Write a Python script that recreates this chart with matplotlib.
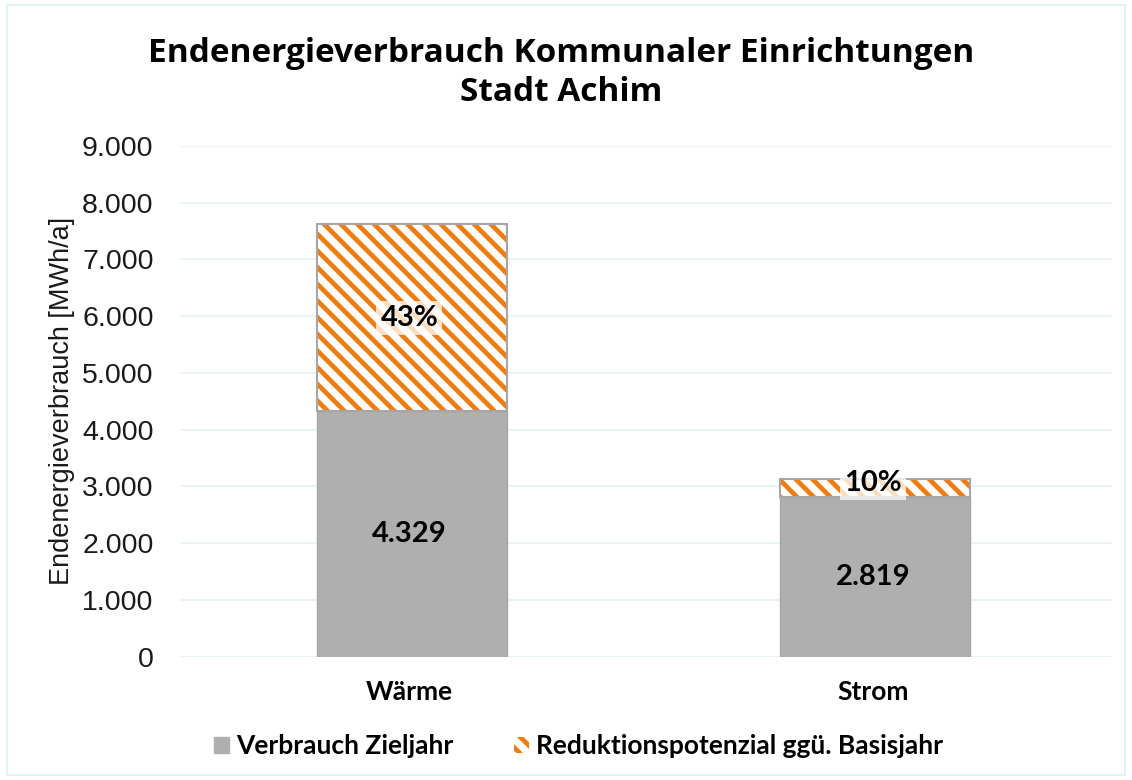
import numpy as np
import matplotlib.pyplot as plt
from matplotlib.patches import Rectangle

# Daten
kategorien = ["Wärme", "Strom"]
verbrauch_zieljahr = [4329, 2819]
reduktion = [3291, 316]
reduktion_prozent = ["43%", "10%"]
y_ticks = [0, 1000, 2000, 3000, 4000, 5000, 6000, 7000, 8000, 9000]
y_tick_labels = ["0", "1.000", "2.000", "3.000", "4.000", "5.000", "6.000", "7.000", "8.000", "9.000"]

grau = "#afafaf"
orange = "#ee7d11"
plt.rcParams['hatch.color'] = orange
plt.rcParams['hatch.linewidth'] = 3.4

fig = plt.figure(figsize=(11.32, 7.8), dpi=100)
ax = fig.add_axes([0.159, 0.158, 0.823, 0.655])

x = np.arange(len(kategorien))
breite = 0.41

ax.bar(x + 0.005, verbrauch_zieljahr, breite, color=grau, edgecolor="#a6a6a6", linewidth=1,
       label="Verbrauch Zieljahr", zorder=3)
ax.bar(x + 0.005, reduktion, breite, bottom=verbrauch_zieljahr, color="white", edgecolor=orange,
       linewidth=0, hatch="\\\\", zorder=3)
# Rahmen um Reduktionsteil
for xi, b, h in zip(x + 0.005, verbrauch_zieljahr, reduktion):
    ax.add_patch(Rectangle((xi - breite / 2, b), breite, h, fill=False,
                           edgecolor="#a6a6a6", linewidth=1.5, zorder=4))

# Werte beschriften
for xi, v in zip(x, verbrauch_zieljahr):
    ax.text(xi, v / 2, f"{v:,}".replace(",", "."), ha="center", va="center",
            fontsize=21, fontweight="bold", family="Lato", zorder=5)
for xi, b, h, p in zip(x, verbrauch_zieljahr, reduktion, reduktion_prozent):
    ax.text(xi, b + h / 2 + (0 if h > 1000 else 80), p, ha="center", va="center",
            fontsize=21, fontweight="bold", family="Lato", zorder=5,
            bbox=dict(facecolor="white", alpha=0.75, edgecolor="none", pad=3))

ax.set_xlim(-0.495, 1.515)
ax.set_ylim(0, 9000)
ax.set_yticks(y_ticks)
ax.set_yticklabels(y_tick_labels, family="Liberation Sans", fontsize=20.5, color="#1a1a1a")
ax.set_xticks(x)
ax.set_xticklabels(kategorien, family="Lato", fontweight="bold", fontsize=19)
ax.tick_params(length=0)
ax.tick_params(axis="y", pad=19)
ax.tick_params(axis="x", pad=17)
ax.grid(axis="y", color="#e3f2f2", linewidth=1.2, zorder=0)
for s in ax.spines.values():
    s.set_visible(False)

ax.set_ylabel("Endenergieverbrauch [MWh/a]", family="Liberation Sans", fontsize=19.5,
              color="#1a1a1a", labelpad=5)

fig.text(0.496, 0.906, "Endenergieverbrauch Kommunaler Einrichtungen\nStadt Achim",
         ha="center", va="center", family="Open Sans", fontweight="bold", fontsize=24,
         linespacing=1.25)

# Legende
h1 = Rectangle((0, 0), 1, 1, facecolor=grau, edgecolor=grau)
h2 = Rectangle((0, 0), 1, 1, facecolor="white", edgecolor=orange, hatch="\\\\", linewidth=0)
leg = fig.legend([h1, h2], ["Verbrauch Zieljahr", "Reduktionspotenzial ggü. Basisjahr"],
                 loc="center", bbox_to_anchor=(0.511, 0.043), ncol=2, frameon=False,
                 prop={"family": "Lato", "weight": "bold", "size": 19},
                 handlelength=0.58, handleheight=0.58, handletextpad=0.25, columnspacing=2.3)

# Rahmen der Grafik
fig.add_artist(Rectangle((0.006, 0.006), 0.988, 0.988, transform=fig.transFigure,
                         fill=False, edgecolor="#e3f2f2", linewidth=1.5))

fig.savefig("out.png", dpi=100)
